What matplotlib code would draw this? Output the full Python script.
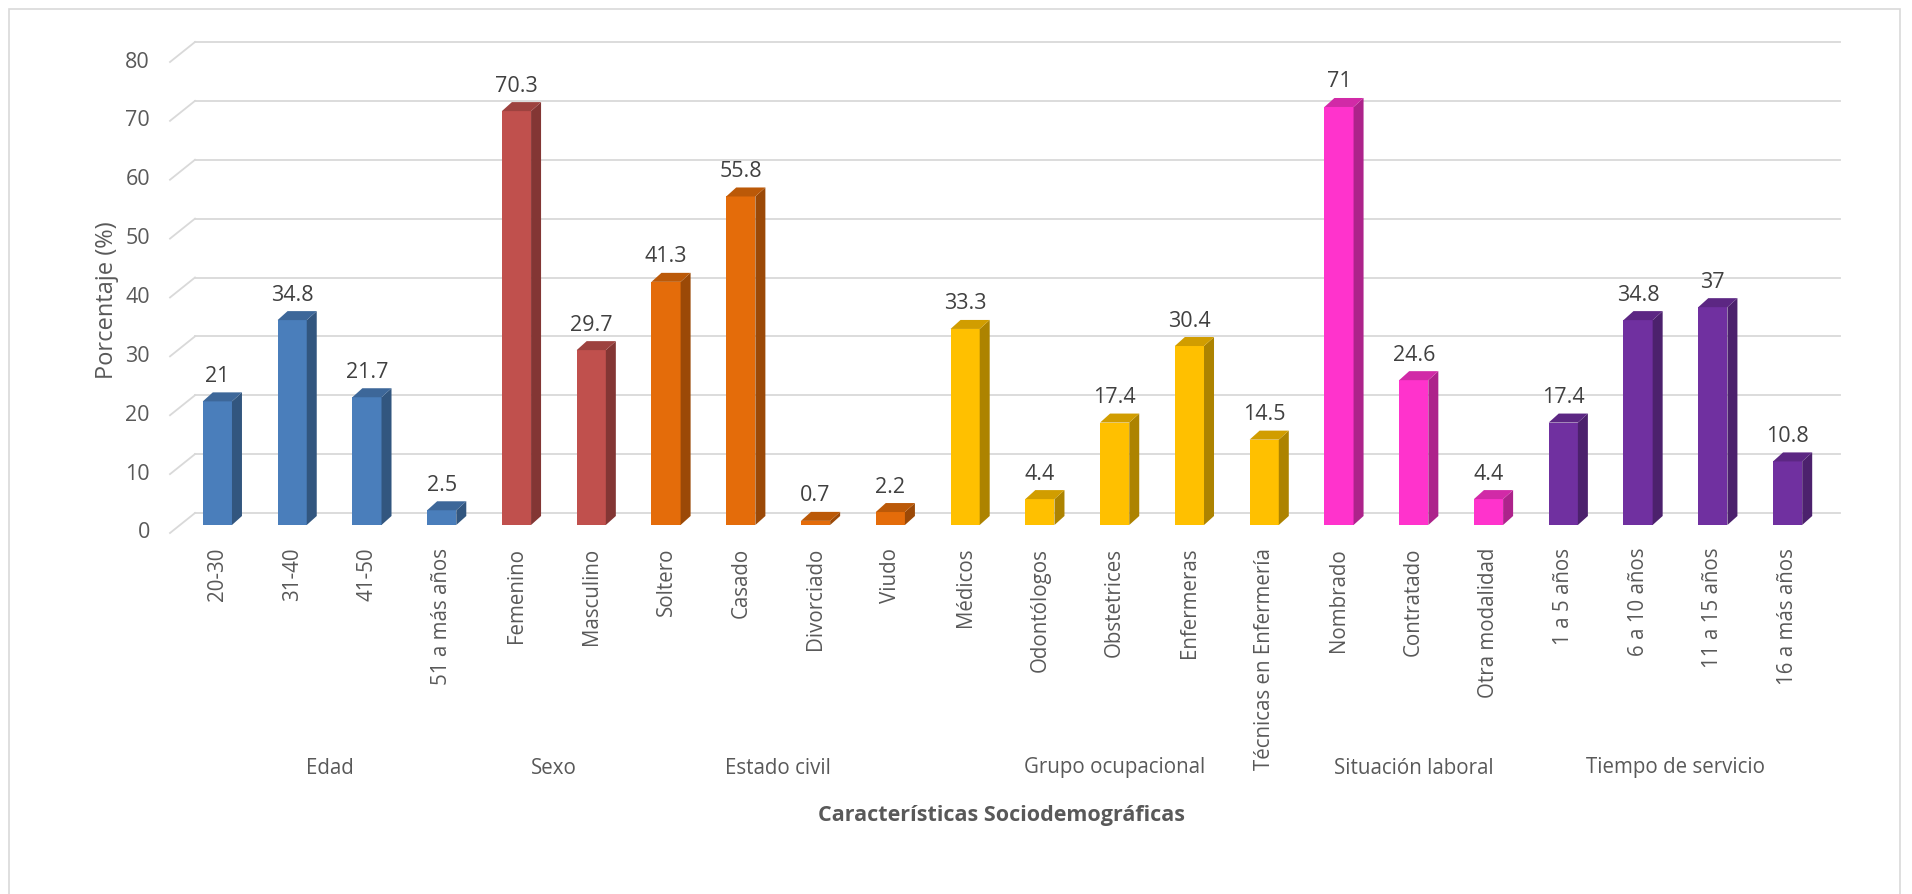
import matplotlib
matplotlib.use('Agg')
import matplotlib.pyplot as plt
from matplotlib.patches import Polygon, Rectangle
from matplotlib.lines import Line2D
from matplotlib.transforms import IdentityTransform, blended_transform_factory
from matplotlib.colors import to_rgb

plt.rcParams['font.family'] = ['Open Sans', 'DejaVu Sans']

# ---------------- data ----------------
categories = ['20-30', '31-40', '41-50', '51 a más años',
              'Femenino', 'Masculino',
              'Soltero', 'Casado', 'Divorciado', 'Viudo',
              'Médicos', 'Odontólogos', 'Obstetrices', 'Enfermeras', 'Técnicas en Enfermería',
              'Nombrado', 'Contratado', 'Otra modalidad',
              '1 a 5 años', '6 a 10 años', '11 a 15 años', '16 a más años']
values = [21, 34.8, 21.7, 2.5,
          70.3, 29.7,
          41.3, 55.8, 0.7, 2.2,
          33.3, 4.4, 17.4, 30.4, 14.5,
          71, 24.6, 4.4,
          17.4, 34.8, 37, 10.8]
groups = ['Edad', 'Sexo', 'Estado civil', 'Grupo ocupacional', 'Situación laboral', 'Tiempo de servicio']
group_sizes = [4, 2, 4, 5, 3, 4]
group_colors = ['#4a7ebb', '#c0504d', '#e46c0a', '#ffc000', '#ff33cc', '#7030a0']
yticks = [0, 10, 20, 30, 40, 50, 60, 70, 80]
xlabel = 'Características Sociodemográficas'
ylabel = 'Porcentaje (%)'

# ---------------- style ----------------
W, H = 1912, 894
TXT = '#595959'
LBL = '#404040'
GRID = '#d9d9d9'
FS = 14.8
FSN = 15.5

def shade(c, f):
    r, g, b = to_rgb(c)
    return (r * f, g * f, b * f)

colors = []
for col, n in zip(group_colors, group_sizes):
    colors += [col] * n

fig = plt.figure(figsize=(W / 100, H / 100), dpi=100)
ax = fig.add_axes([180 / W, (H - 525) / H, 1645 / W, (525 - 54) / H])
ax.set_xlim(-0.5, len(categories) - 0.5)
ax.set_ylim(0, 80)
for s in ax.spines.values():
    s.set_visible(False)
ax.set_yticks([])
ax.patch.set_alpha(0)

xs = list(range(len(categories)))
ax.set_xticks(xs)
ax.set_xticklabels(categories, rotation=90, fontsize=FS, color=TXT)
ax.tick_params(axis='x', length=0, pad=16.5)

ID = IdentityTransform()
P = lambda x, y: ax.transData.transform((x, y))

# back-plane offset, front-plane offset (pixels, relative to bar plane)
BDX, BDY = 15, 12
FDX, FDY = -10, -8
# bar depth
DDX, DDY = 10, 9

# gridlines (back wall) + diagonal on the left side
xl = -0.5
xr = len(categories) - 0.5
for v in yticks:
    x0, y0 = P(xl, v)
    x1, _ = P(xr, v)
    ax.add_line(Line2D([x0 + BDX, x1 + BDX], [y0 + BDY, y0 + BDY], transform=ID,
                       color=GRID, lw=1.3, zorder=1, clip_on=False))
    ax.add_line(Line2D([x0 + FDX, x0 + BDX], [y0 + FDY, y0 + BDY], transform=ID,
                       color=GRID, lw=1.3, zorder=1, clip_on=False))
    ax.text(x0 + FDX - 20, y0 + FDY, f'{v}', transform=ID, ha='right', va='center',
            fontsize=FSN, color=TXT)

# bars (front face)
bw = 0.39
ax.bar(xs, values, width=bw, color=colors, linewidth=0, zorder=3)

# side & top faces
for x, v, c in zip(xs, values, colors):
    lx, by = P(x - bw / 2, 0)
    rx, ty = P(x + bw / 2, v)
    side = Polygon([(rx, by), (rx, ty), (rx + DDX, ty + DDY), (rx + DDX, by + DDY)],
                   closed=True, transform=ID, facecolor=shade(c, 0.68), edgecolor='none',
                   zorder=3, clip_on=False)
    top = Polygon([(lx, ty), (rx, ty), (rx + DDX, ty + DDY), (lx + DDX, ty + DDY)],
                  closed=True, transform=ID, facecolor=shade(c, 0.82), edgecolor='none',
                  zorder=3, clip_on=False)
    ax.add_patch(side)
    ax.add_patch(top)
    cx, cy = P(x, v)
    ax.text(cx, cy + 25, f'{v:g}', transform=ID, ha='center', va='center',
            fontsize=FSN, color=LBL)

# group labels
bt = blended_transform_factory(ax.transData, ID)
start = 0
for g, n in zip(groups, group_sizes):
    center = (xs[start] + xs[start + n - 1]) / 2
    ax.text(center, H - 768, g, transform=bt, ha='center', va='center', fontsize=FS, color=TXT)
    start += n

# axis titles
fig.text(1002 / W, (H - 815) / H, xlabel, ha='center', va='center', fontsize=15.5,
         fontweight='bold', color=TXT)
fig.text(107 / W, (H - 300) / H, ylabel, ha='center', va='center', rotation=90,
         fontsize=17, color=TXT)

# chart border
fig.add_artist(Rectangle((9 / W, -0.05), (1900 - 9) / W, (H - 9) / H + 0.05,
                         transform=fig.transFigure, fill=False, edgecolor=GRID, lw=1.2))

fig.savefig('out.png', dpi=100)
